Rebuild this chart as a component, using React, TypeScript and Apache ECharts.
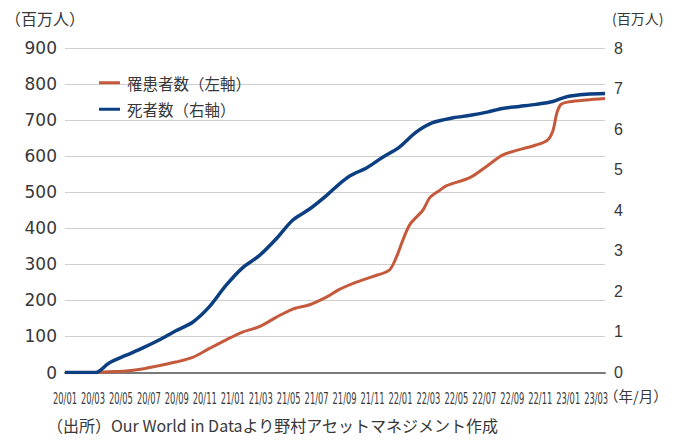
import React, { useEffect, useRef } from "react";
import * as echarts from "echarts";

const caseDates = [
  "2020-01-01", "2020-03-07", "2020-04-05", "2020-05-11", "2020-06-17", "2020-07-23",
  "2020-08-29", "2020-10-05", "2020-11-10", "2020-12-16", "2021-01-22", "2021-02-28",
  "2021-04-04", "2021-05-10", "2021-06-16", "2021-07-22", "2021-08-19", "2021-09-25",
  "2021-11-01", "2021-12-07", "2021-12-22", "2022-01-07", "2022-01-22", "2022-02-19",
  "2022-03-04", "2022-03-25", "2022-04-10", "2022-06-01", "2022-07-07", "2022-08-10",
  "2022-09-16", "2022-10-22", "2022-11-16", "2022-11-28", "2022-12-07", "2022-12-16",
  "2023-01-04", "2023-02-10", "2023-03-20",
];
const caseValues = [
  0, 0, 2, 4, 10, 19,
  29, 42, 66, 90, 112, 127,
  153, 176, 188, 209, 230, 250,
  266, 284, 319, 370, 412, 450,
  485, 505, 518, 541, 573, 603,
  618, 631, 644, 670, 721, 744,
  751, 756, 760,
];

const deathDates = [
  "2020-01-01", "2020-03-07", "2020-04-05", "2020-05-11", "2020-06-17", "2020-07-23",
  "2020-08-29", "2020-10-05", "2020-11-10", "2020-12-16", "2021-01-22", "2021-02-28",
  "2021-04-04", "2021-05-10", "2021-06-16", "2021-07-22", "2021-08-19", "2021-09-13",
  "2021-10-19", "2021-11-22", "2021-12-28", "2022-02-04", "2022-03-10", "2022-04-25",
  "2022-06-01", "2022-07-07", "2022-08-10", "2022-09-16", "2022-10-22", "2022-11-28",
  "2022-12-28", "2023-02-10", "2023-03-20",
];
const deathValues = [
  0, 0, 0.23, 0.42, 0.6, 0.8,
  1.03, 1.24, 1.61, 2.14, 2.58, 2.88,
  3.29, 3.76, 4.03, 4.36, 4.64, 4.85,
  5.05, 5.3, 5.55, 5.92, 6.16, 6.28,
  6.34, 6.42, 6.51, 6.56, 6.61, 6.68,
  6.8, 6.86, 6.88,
];

const xTickLabels = [
  "20/01", "20/03", "20/05", "20/07", "20/09", "20/11",
  "21/01", "21/03", "21/05", "21/07", "21/09", "21/11",
  "22/01", "22/03", "22/05", "22/07", "22/09", "22/11",
  "23/01", "23/03",
];

const seriesNames = ["罹患者数（左軸）", "死者数（右軸）"];

const toMonthIndex = (s: string) => {
  const [y, m, d] = s.split("-").map(Number);
  return (y - 2020) * 12 + (m - 1) + (d - 1) / 30;
};

const TEXT = "#383838";
const CJK = "'Noto Sans CJK JP', 'Noto Sans', sans-serif";

export default function App() {
  const ref = useRef<HTMLDivElement>(null);
  useEffect(() => {
    if (!ref.current) return;
    const chart = echarts.init(ref.current, undefined, { renderer: "svg" });
    const xMax = toMonthIndex(caseDates[caseDates.length - 1]);
    const staticGraphic: any[] = [
      {
        type: "text",
        left: 5,
        top: 10,
        style: { text: "（百万人）", fill: TEXT, fontSize: 16, fontFamily: CJK },
      },
      {
        type: "text",
        left: 612,
        top: 11,
        style: { text: "(百万人)", fill: TEXT, fontSize: 14, fontFamily: CJK },
      },
      {
        type: "text",
        left: 604,
        top: 388,
        style: { text: "（年/月）", fill: TEXT, fontSize: 14.5, fontFamily: CJK },
      },
      {
        type: "text",
        left: 47,
        top: 417,
        style: {
          text: "（出所）Our World in Dataより野村アセットマネジメント作成",
          fill: TEXT,
          fontSize: 16,
          fontFamily: CJK,
        },
      },
    ];
    chart.setOption({
      animation: false,
      grid: { left: 65, right: 75, top: 48, bottom: 69.5, containLabel: false },
      legend: {
        data: seriesNames,
        orient: "vertical",
        left: 94,
        top: 70,
        itemWidth: 21,
        itemHeight: 3,
        itemGap: 11,
        icon: "rect",
        textStyle: { color: TEXT, fontSize: 15.5, fontFamily: CJK, padding: [0, 0, 0, 2] },
      },
      graphic: staticGraphic,
      xAxis: {
        type: "value",
        min: 0,
        max: xMax,
        interval: 2,
        splitLine: { show: false },
        axisTick: { show: false },
        axisLine: { show: true, lineStyle: { color: "#7a7a7a", width: 2 } },
        axisLabel: { show: false },
      },
      yAxis: [
        {
          type: "value",
          min: 0,
          max: 900,
          interval: 100,
          axisLine: { show: false },
          axisTick: { show: false },
          splitLine: { lineStyle: { color: "#cfcfcf", width: 1 } },
          axisLabel: { color: TEXT, fontSize: 17, fontFamily: "DejaVu Sans, sans-serif", margin: 8 },
        },
        {
          type: "value",
          min: 0,
          max: 8,
          interval: 1,
          axisLine: { show: false },
          axisTick: { show: false },
          splitLine: { show: false },
          axisLabel: {
            color: TEXT,
            fontSize: 16,
            fontFamily: "Liberation Sans, sans-serif",
            margin: 9,
          },
        },
      ],
      series: [
        {
          name: seriesNames[0],
          type: "line",
          yAxisIndex: 0,
          showSymbol: false,
          smooth: 0.3,
          color: "#C45A3B",
          lineStyle: { width: 3, color: "#C45A3B" },
          data: caseDates.map((d, i) => [toMonthIndex(d), caseValues[i]]),
        },
        {
          name: seriesNames[1],
          type: "line",
          yAxisIndex: 1,
          showSymbol: false,
          smooth: 0.3,
          color: "#0B3F82",
          lineStyle: { width: 3.5, color: "#0B3F82" },
          data: deathDates.map((d, i) => [toMonthIndex(d), deathValues[i]]),
        },
      ],
    });
    // x tick labels placed through the axis scale, drawn condensed like the reference
    const axisY = chart.convertToPixel({ yAxisIndex: 0 }, 0) as number;
    const tickLabels = xTickLabels.map((t, i) => ({
      type: "text",
      x: chart.convertToPixel({ xAxisIndex: 0 }, i * 2) as number,
      y: axisY + 25.5,
      scaleX: 0.52,
      style: {
        text: t,
        fill: TEXT,
        fontSize: 16,
        fontFamily: "DejaVu Sans, sans-serif",
        align: "center",
        verticalAlign: "middle",
      },
    }));
    chart.setOption({ graphic: [...staticGraphic, ...tickLabels] });
    return () => chart.dispose();
  }, []);
  return <div ref={ref} style={{ width: 680, height: 442, position: "absolute", left: 0, top: 0 }} />;
}
